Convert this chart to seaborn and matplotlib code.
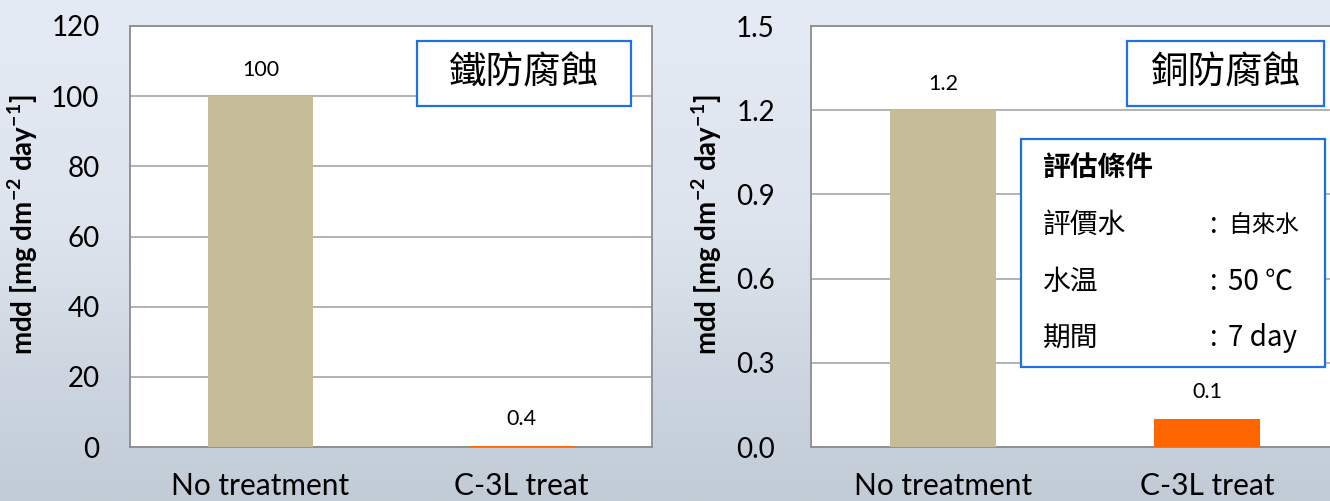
import numpy as np
import matplotlib
matplotlib.use('Agg')
import matplotlib.pyplot as plt
import seaborn as sns
from matplotlib.patches import Rectangle
from matplotlib.colors import LinearSegmentedColormap
from matplotlib.ticker import FormatStrFormatter

# data
categories = ["No treatment", "C-3L treat"]
iron_mdd = [100, 0.4]
copper_mdd = [1.2, 0.1]
iron_ticks = [0, 20, 40, 60, 80, 100, 120]
copper_ticks = [0.0, 0.3, 0.6, 0.9, 1.2, 1.5]
iron_title = "鐵防腐蝕"
copper_title = "銅防腐蝕"
cond_title = "評估條件"
cond_names = ["評價水", "水温", "期間"]
cond_values = ["自來水", "50 ℃", "7 day"]
ylabel = r'mdd [mg dm$^{\mathregular{-2}}$ day$^{\mathregular{-1}}$]'

bar_colors = ['#C4BD97', '#FF6600']
box_blue = '#1F6FE8'
cjk = 'Noto Sans CJK TC'

W, H = 1330, 501
sns.set_theme(style="white")
plt.rcParams['font.family'] = ['Lato', cjk, 'DejaVu Sans']
plt.rcParams['mathtext.fontset'] = 'custom'
plt.rcParams['mathtext.rm'] = 'Lato'
plt.rcParams['mathtext.bf'] = 'Lato:bold'

fig = plt.figure(figsize=(W / 100, H / 100), dpi=100)


def px_rect(x0, y0, x1, y1):
    return [x0 / W, 1 - y1 / H, (x1 - x0) / W, (y1 - y0) / H]


# background (light blue-grey, darker towards the bottom)
bg = fig.add_axes([0, 0, 1, 1], zorder=0)
grad = np.linspace(0, 1, 256).reshape(-1, 1)
cmap = LinearSegmentedColormap.from_list(
    'bg', [(0, '#E4EBF4'), (0.45, '#DDE4ED'), (0.75, '#CDD6E0'), (1, '#C2CCD6')])
bg.imshow(grad, aspect='auto', cmap=cmap, extent=[0, 1, 0, 1])
bg.axis('off')

ax1 = fig.add_axes(px_rect(130, 26, 652, 447), zorder=1)
ax2 = fig.add_axes(px_rect(811, 26, 1339, 447), zorder=1)


def draw_panel(ax, values, ticks, fmt, pad, label_x):
    sns.barplot(x=categories, y=values, hue=categories, palette=bar_colors,
                width=0.4, saturation=1, legend=False, ax=ax, linewidth=0)
    for p in ax.patches:
        p.set_zorder(4)
    ax.set_facecolor('white')
    ax.set_xlim(-0.5, 1.5)
    ax.set_ylim(ticks[0], ticks[-1])
    ax.set_yticks(ticks)
    ax.yaxis.set_major_formatter(FormatStrFormatter(fmt))
    ax.grid(axis='y', color='#A6A6A6', lw=1.2)
    ax.set_axisbelow(True)
    for s in ax.spines.values():
        s.set_color('#8C8C8C')
        s.set_linewidth(1.3)
    ax.tick_params(axis='y', length=0, pad=pad, labelsize=20, labelcolor='black')
    ax.tick_params(axis='x', which='major', length=0, pad=18, labelsize=21.5,
                   labelcolor='black')
    ax.set_xticks([0.5], minor=True)
    ax.tick_params(axis='x', which='minor', direction='in', length=5,
                   width=1.2, color='#8C8C8C')
    for c in ax.containers:
        ax.bar_label(c, fmt='%g', padding=12, fontsize=15.5, color='black')
    ax.set_xlabel('')
    ax.set_ylabel(ylabel, fontsize=20, fontweight='bold', color='black')
    ax.yaxis.set_label_coords(label_x, 0.527)


draw_panel(ax1, iron_mdd, iron_ticks, '%g', 22, -90 / 522)
draw_panel(ax2, copper_mdd, copper_ticks, '%.1f', 26, -87 / 528)


def add_box(x0, y0, x1, y1):
    fig.add_artist(Rectangle((x0 / W, 1 - y1 / H), (x1 - x0) / W, (y1 - y0) / H,
                             transform=fig.transFigure, facecolor='white',
                             edgecolor=box_blue, lw=1.6, zorder=5))


def ftext(x, y, s, **kw):
    fig.text(x / W, 1 - y / H, s, zorder=6, color='black', **kw)


# title boxes
add_box(417, 41, 631, 106)
ftext(524, 73.5, iron_title, ha='center', va='center', fontsize=27, family=cjk)
add_box(1127, 41, 1324, 106)
ftext(1225.5, 73.5, copper_title, ha='center', va='center', fontsize=27, family=cjk)

# evaluation conditions box
add_box(1021, 139, 1325, 367)
ftext(1043, 168, cond_title, ha='left', va='center', fontsize=20,
      fontweight='bold', family=cjk)
row_y = [225, 282, 338]
for name, val, y in zip(cond_names, cond_values, row_y):
    ftext(1043, y, name, ha='left', va='center', fontsize=20, family=cjk)
    ftext(1210, y, ':', ha='left', va='center', fontsize=20, family=cjk)
    ftext(1228, y, val, ha='left', va='center',
          fontsize=17 if val == cond_values[0] else 20, family=cjk)

fig.savefig('out.png', dpi=100)
